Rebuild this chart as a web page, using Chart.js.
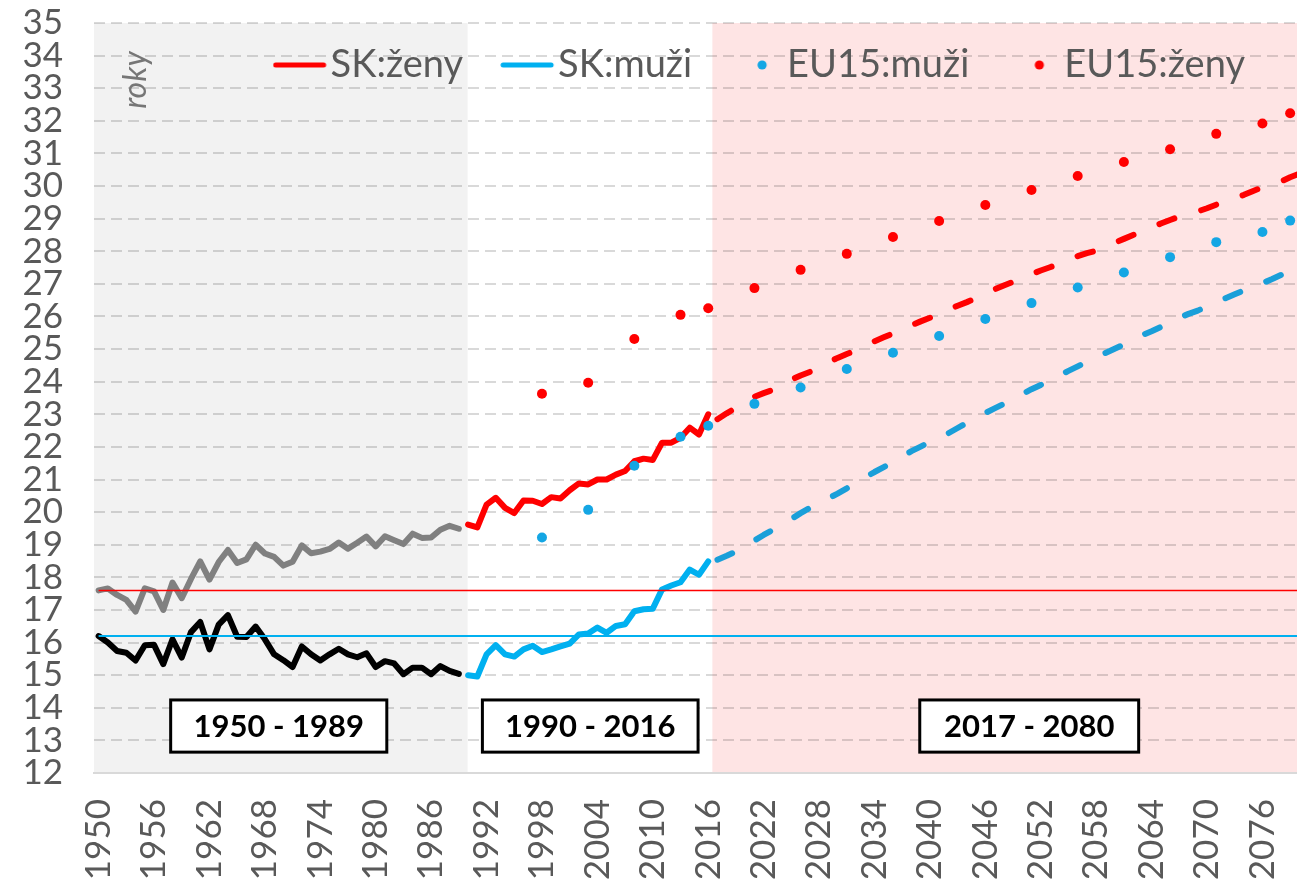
<!DOCTYPE html>
<html>
<head>
<meta charset="utf-8">
<script src="https://cdn.jsdelivr.net/npm/chart.js@4.4.1/dist/chart.umd.min.js"></script>
<style>
html,body{margin:0;padding:0;background:#ffffff;}
#wrap{width:1297px;height:887px;overflow:hidden;position:relative;}
canvas{display:block;}
</style>
</head>
<body>
<div id="wrap"><canvas id="c" width="1309" height="887" style="width:1309px;height:887px"></canvas></div>
<script>
// ---------- categories ----------
const years = [1950,1951,1952,1953,1954,1955,1956,1957,1958,1959,1960,1961,1962,1963,1964,1965,1966,1967,1968,1969,
1970,1971,1972,1973,1974,1975,1976,1977,1978,1979,1980,1981,1982,1983,1984,1985,1986,1987,1988,1989,
1990,1991,1992,1993,1994,1995,1996,1997,1998,1999,2000,2001,2002,2003,2004,2005,2006,2007,2008,2009,
2010,2011,2012,2013,2014,2015,2016,2017,2018,2019,2020,2021,2022,2023,2024,2025,2026,2027,2028,2029,
2030,2031,2032,2033,2034,2035,2036,2037,2038,2039,2040,2041,2042,2043,2044,2045,2046,2047,2048,2049,
2050,2051,2052,2053,2054,2055,2056,2057,2058,2059,2060,2061,2062,2063,2064,2065,2066,2067,2068,2069,
2070,2071,2072,2073,2074,2075,2076,2077,2078,2079,2080];
const xTickLabels = ['1950','1956','1962','1968','1974','1980','1986','1992','1998','2004','2010','2016',
'2022','2028','2034','2040','2046','2052','2058','2064','2070','2076'];

// ---------- series ----------
// 1950-1989 (grey = women, black = men)
const womenHist = [17.60,17.66,17.46,17.31,16.95,17.66,17.57,17.00,17.84,17.36,17.95,18.49,17.93,18.47,18.84,18.44,18.55,19.00,18.73,18.63,
18.36,18.48,18.98,18.74,18.79,18.87,19.07,18.88,19.06,19.25,18.95,19.26,19.14,19.02,19.34,19.21,19.22,19.46,19.58,19.49];
const menHist = [16.20,16.00,15.74,15.69,15.45,15.92,15.93,15.34,16.10,15.54,16.32,16.63,15.79,16.55,16.84,16.18,16.17,16.49,16.10,15.64,
15.46,15.25,15.88,15.64,15.45,15.64,15.81,15.64,15.55,15.67,15.25,15.43,15.36,15.03,15.23,15.23,15.03,15.28,15.13,15.04];
// 1990-2016 SK
const womenSK = [19.62,19.53,20.23,20.44,20.13,19.97,20.36,20.35,20.25,20.46,20.42,20.67,20.88,20.85,21.00,21.00,21.15,21.26,21.56,21.64,
21.60,22.13,22.13,22.28,22.59,22.38,23.00];
const menSK = [15.00,14.96,15.64,15.92,15.64,15.57,15.79,15.90,15.71,15.79,15.88,15.97,16.25,16.28,16.46,16.30,16.51,16.56,16.96,17.02,
17.04,17.63,17.75,17.85,18.24,18.08,18.49];
// 2017-2080 SK projection
const womenProj = [22.85,23.03,23.20,23.38,23.54,23.65,23.75,23.89,24.06,24.19,24.30,24.43,24.59,24.73,24.85,24.96,25.10,25.24,25.36,25.48,
25.60,25.73,25.85,25.96,26.08,26.21,26.33,26.44,26.56,26.70,26.83,26.95,27.06,27.18,27.30,27.41,27.51,27.61,27.73,27.85,
27.94,28.02,28.14,28.26,28.38,28.50,28.61,28.73,28.85,28.96,29.06,29.14,29.22,29.32,29.43,29.54,29.64,29.73,29.85,29.96,
30.05,30.14,30.27,30.38];
const menProj = [18.54,18.66,18.79,18.97,19.13,19.30,19.46,19.63,19.79,19.97,20.13,20.28,20.42,20.57,20.73,20.90,21.07,21.23,21.38,21.53,
21.70,21.87,22.01,22.15,22.28,22.42,22.58,22.74,22.89,23.04,23.18,23.32,23.47,23.62,23.77,23.90,24.03,24.19,24.33,24.47,
24.61,24.74,24.88,25.01,25.14,25.29,25.43,25.55,25.68,25.82,25.96,26.08,26.18,26.31,26.43,26.56,26.68,26.80,26.91,27.02,
27.14,27.27,27.42,27.54];
// EU15
const eu15Years = [1998,2003,2008,2013,2016,2021,2026,2031,2036,2041,2046,2051,2056,2061,2066,2071,2076,2079];
const eu15Men   = [19.22,20.07,21.42,22.31,22.65,23.32,23.82,24.39,24.89,25.40,25.92,26.41,26.89,27.35,27.82,28.28,28.59,28.94];
const eu15Women = [23.63,23.97,25.31,26.05,26.25,26.87,27.43,27.92,28.44,28.93,29.42,29.88,30.31,30.74,31.13,31.60,31.92,32.23];
// reference levels (1950 values)
const refYears = [1950, 2080];
const refWomen = [17.6, 17.6];
const refMen = [16.2, 16.2];

// period annotations
const periodLabels = ['1950 - 1989', '1990 - 2016', '2017 - 2080'];
const periodBoxFrom = [1957.8, 1991.55, 2038.9];
const periodBoxTo   = [1981.2, 2014.9, 2062.6];
const periodBoxTop = 14.24, periodBoxBottom = 12.64;
const shadeGreyEnd = 1989.95, shadePinkStart = 2016.45;

// ---------- helpers ----------
function place(startYear, values) {
  const arr = years.map(() => null);
  const s = years.indexOf(startYear);
  values.forEach((v, i) => { arr[s + i] = v; });
  return arr;
}
function placeAt(yrs, values) {
  const arr = years.map(() => null);
  yrs.forEach((yr, i) => { arr[years.indexOf(yr)] = values[i]; });
  return arr;
}
function lineSample(color) {
  const c = document.createElement('canvas'); c.width = 66; c.height = 8;
  const g = c.getContext('2d'); g.strokeStyle = color; g.lineWidth = 5; g.lineCap = 'round';
  g.beginPath(); g.moveTo(3, 4); g.lineTo(51, 4); g.stroke(); return c;
}
function dotSample(color) {
  const c = document.createElement('canvas'); c.width = 12; c.height = 12;
  const g = c.getContext('2d'); g.fillStyle = color; g.beginPath(); g.arc(6, 6, 4.6, 0, Math.PI * 2); g.fill(); return c;
}

const RED = '#ff0000', BLUE = '#00b0f0', BLUE2 = '#1a9fd9', DOTBLUE = '#14a6e4', GREY = '#808080', BLACK = '#000000';
const FONT = 'Lato, "Open Sans", sans-serif';

const lineBase = { pointRadius: 0, pointHoverRadius: 0, borderWidth: 6, borderCapStyle: 'round', borderJoinStyle: 'round', tension: 0, fill: false, order: 2 };
const dotBase = { showLine: false, pointRadius: 5, pointHoverRadius: 5, pointBorderWidth: 0, pointStyle: 'circle', order: 1 };

const yr = (chart, year) => chart.scales.x.getPixelForValue(year - years[0]);

// background shading
const shading = {
  id: 'shading',
  beforeDraw(chart) {
    const {ctx, chartArea: a} = chart;
    ctx.save();
    const g = yr(chart, shadeGreyEnd), p = yr(chart, shadePinkStart);
    ctx.fillStyle = '#f2f2f2';
    ctx.fillRect(a.left, a.top, g - a.left, a.bottom - a.top);
    ctx.fillStyle = '#fee4e4';
    ctx.fillRect(p, a.top, a.right - p, a.bottom - a.top);
    ctx.restore();
  }
};

// legend overlays the plot area (no reserved height)
const legendOverlay = {
  id: 'legendOverlay',
  beforeLayout(chart) {
    const lg = chart.legend;
    if (lg && !lg.__overlay) {
      const fit = lg.fit;
      lg.fit = function () { fit.call(this); this.height = 0; };
      lg.__overlay = true;
    }
  },
  afterLayout(chart) {
    const lg = chart.legend; if (!lg) return;
    const lab = lg.options.labels;
    const mid = chart.chartArea.top + 42;
    lg.top = mid - lab.font.size / 2 - lab.padding;
    lg.bottom = lg.top + 200;
    lg.height = 200;
  }
};

// annotations
const annotations = {
  id: 'annotations',
  afterDraw(chart) {
    const {ctx, chartArea: a, scales: {y}} = chart;
    ctx.save();
    // "roky"
    ctx.translate(a.left + 42, a.top + 57);
    ctx.rotate(-Math.PI / 2);
    ctx.font = 'italic 32px ' + FONT;
    ctx.fillStyle = '#767676';
    ctx.textAlign = 'center'; ctx.textBaseline = 'middle';
    ctx.fillText('roky', 0, 0);
    ctx.restore();
    // period boxes
    ctx.save();
    const t = y.getPixelForValue(periodBoxTop), b = y.getPixelForValue(periodBoxBottom);
    periodLabels.forEach((txt, i) => {
      const l = yr(chart, periodBoxFrom[i]), r = yr(chart, periodBoxTo[i]);
      ctx.fillStyle = '#ffffff';
      ctx.fillRect(l, t, r - l, b - t);
      ctx.lineWidth = 3; ctx.strokeStyle = '#000000';
      ctx.strokeRect(l, t, r - l, b - t);
      ctx.fillStyle = '#000000';
      ctx.font = 'bold 31px ' + FONT;
      ctx.textAlign = 'center'; ctx.textBaseline = 'middle';
      ctx.fillText(txt, (l + r) / 2, (t + b) / 2 + 1);
    });
    ctx.restore();
  }
};

const legendSamples = {
  'SK:ženy': lineSample(RED),
  'SK:muži': lineSample(BLUE),
  'EU15:muži': dotSample(DOTBLUE),
  'EU15:ženy': dotSample(RED)
};

new Chart(document.getElementById('c'), {
  type: 'line',
  data: {
    labels: years.map(String),
    datasets: [
      { label: 'ref ženy 1950', data: placeAt(refYears, refWomen), borderColor: RED, borderWidth: 1.5, pointRadius: 0, spanGaps: true, order: 0 },
      { label: 'ref muži 1950', data: placeAt(refYears, refMen), borderColor: BLUE, borderWidth: 2, pointRadius: 0, spanGaps: true, order: 0 },
      { ...dotBase, label: 'EU15:muži', data: placeAt(eu15Years, eu15Men), pointBackgroundColor: DOTBLUE, borderColor: DOTBLUE, backgroundColor: DOTBLUE },
      { ...dotBase, label: 'EU15:ženy', data: placeAt(eu15Years, eu15Women), pointBackgroundColor: RED, borderColor: RED, backgroundColor: RED },
      { ...lineBase, label: 'SK:ženy', data: place(1990, womenSK), borderColor: RED },
      { ...lineBase, label: 'SK:muži', data: place(1990, menSK), borderColor: BLUE },
      { ...lineBase, label: 'SK:ženy projekcia', data: place(2017, womenProj), borderColor: RED, borderDash: [16, 28] },
      { ...lineBase, label: 'SK:muži projekcia', data: place(2017, menProj), borderColor: BLUE2, borderDash: [16, 28] },
      { ...lineBase, label: 'ženy 1950-1989', data: place(1950, womenHist), borderColor: GREY },
      { ...lineBase, label: 'muži 1950-1989', data: place(1950, menHist), borderColor: BLACK }
    ]
  },
  options: {
    responsive: false,
    animation: false,
    devicePixelRatio: 1,
    layout: { padding: { top: 23, left: 12, right: 0, bottom: 0 } },
    plugins: {
      tooltip: { enabled: false },
      legend: {
        position: 'top',
        align: 'end',
        labels: {
          usePointStyle: true,
          boxWidth: 12,
          boxHeight: 12,
          padding: 64,
          color: '#595959',
          font: { family: FONT, size: 38 },
          generateLabels(chart) {
            return ['SK:ženy', 'SK:muži', 'EU15:muži', 'EU15:ženy'].map(name => {
              const i = chart.data.datasets.findIndex(d => d.label === name);
              return { text: name, pointStyle: legendSamples[name], fillStyle: 'transparent', strokeStyle: 'transparent', lineWidth: 0, hidden: false, datasetIndex: i, fontColor: '#595959' };
            });
          }
        }
      }
    },
    scales: {
      x: {
        type: 'category',
        offset: true,
        grid: { display: false, drawTicks: true, tickLength: 26 },
        border: { display: true, color: '#d9d9d9', width: 2 },
        ticks: {
          autoSkip: false, maxRotation: 90, minRotation: 90, padding: 0,
          color: '#595959', font: { family: FONT, size: 35 },
          callback(value) { const l = this.getLabelForValue(value); return xTickLabels.includes(l) ? l : null; }
        },
        afterFit(s) { s.height = 114; s.paddingLeft = 0; s.paddingRight = 0; }
      },
      y: {
        min: 12, max: 35,
        ticks: { stepSize: 1, autoSkip: false, padding: 31, color: '#595959', font: { family: FONT, size: 35 } },
        grid: { color: 'rgba(0,0,0,0.15)', lineWidth: 2, drawTicks: false },
        border: { display: false, dash: [11, 6] },
        afterFit(s) { s.width = 82; s.paddingTop = 0; s.paddingBottom = 0; }
      }
    }
  },
  plugins: [shading, legendOverlay, annotations]
});
</script>
</body>
</html>
